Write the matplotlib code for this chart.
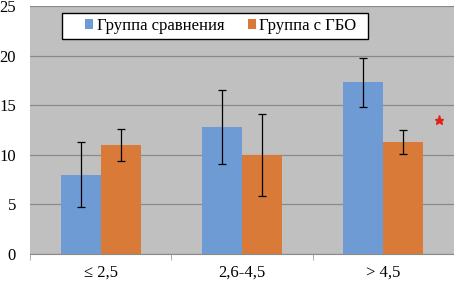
import matplotlib
matplotlib.use("Agg")
import matplotlib.pyplot as plt
from matplotlib.patches import Rectangle
import numpy as np

categories = ["≤ 2,5", "2,6-4,5", "> 4,5"]
series_names = ["Группа сравнения", "Группа с ГБО"]
comparison = [8.0, 12.8, 17.3]
comparison_err = [3.3, 3.7, 2.5]
hbo = [11.0, 10.0, 11.3]
hbo_err = [1.6, 4.15, 1.2]
star_value = 13.5

plt.rcParams['font.family'] = ['Liberation Serif', 'DejaVu Serif']

W, H = 454, 282
fig = plt.figure(figsize=(W/100, H/100), dpi=100)
ax = fig.add_axes([30/W, 1 - 254/H, 424/W, (254-6)/H])
ax.set_facecolor('#c0c0c0')

x = np.arange(len(categories))
w = 0.283
blue = '#6f9bd5'
orange = '#d97a38'
ax.bar(x - w/2, comparison, w, color=blue, label=series_names[0], zorder=2)
ax.bar(x + w/2, hbo, w, color=orange, label=series_names[1], zorder=2)
ax.errorbar(x - w/2, comparison, yerr=comparison_err, fmt='none', ecolor='black',
            elinewidth=0.9, capsize=3, capthick=0.9, zorder=3)
ax.errorbar(x + w/2, hbo, yerr=hbo_err, fmt='none', ecolor='black',
            elinewidth=0.9, capsize=3, capthick=0.9, zorder=3)
ax.plot([x[-1] + 0.394], [star_value], marker='*', color='#e0201b', markersize=6.5,
        linestyle='none', zorder=4, clip_on=False)

ax.set_xlim(-0.5, 2.5)
ax.set_ylim(0, 25)
ax.set_yticks([0, 5, 10, 15, 20, 25])
ax.yaxis.grid(True, color='#8a8a8a', linewidth=0.9, zorder=1)
ax.set_axisbelow(True)
ax.tick_params(axis='y', length=0, labelsize=12, pad=10)
ax.set_xticks(x)
ax.set_xticklabels(categories, fontsize=12)
ax.set_xticks([-0.5, 0.5, 1.5, 2.5], minor=True)
ax.tick_params(axis='x', which='major', length=0, pad=8)
ax.tick_params(axis='x', which='minor', length=4, color='#a0a0a0', direction='out')
for s in ['top', 'right', 'left']:
    ax.spines[s].set_visible(False)
ax.spines['bottom'].set_color('#8a8a8a')

# legend frame
fig.patches.append(Rectangle((62/W, 1 - 39/H), (368-62)/W, 26/H,
                             transform=fig.transFigure, facecolor='white',
                             edgecolor='black', linewidth=1.0, zorder=5))
leg = fig.legend(loc='center left', bbox_to_anchor=(85/W, 1 - 26/H), ncol=2,
                 fontsize=12, frameon=False,
                 handlelength=0.5, handleheight=0.5, handletextpad=0.2,
                 columnspacing=1.4, borderpad=0, borderaxespad=0)
leg.set_zorder(6)

fig.savefig("out.png", dpi=100)
